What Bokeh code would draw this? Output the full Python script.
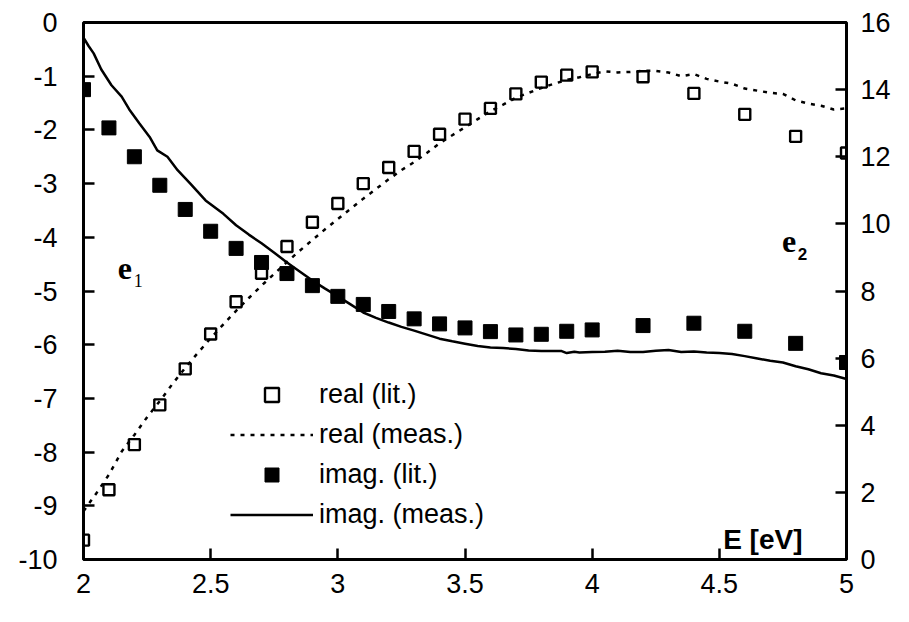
from bokeh.plotting import figure
from bokeh.models import (Range1d, LinearAxis, FixedTicker, Legend, LegendItem, Label)
from bokeh.embed import file_html
from bokeh.resources import INLINE

# ---- data ----
lit_x = [2.0, 2.1, 2.2, 2.3, 2.4, 2.5, 2.6, 2.7, 2.8, 2.9, 3.0, 3.1, 3.2, 3.3, 3.4,
         3.5, 3.6, 3.7, 3.8, 3.9, 4.0, 4.2, 4.4, 4.6, 4.8, 5.0]
real_lit = [-9.64, -8.70, -7.86, -7.12, -6.45, -5.80, -5.20, -4.67, -4.17, -3.72, -3.37,
            -3.00, -2.70, -2.40, -2.08, -1.80, -1.60, -1.33, -1.11, -0.98, -0.92,
            -1.01, -1.32, -1.71, -2.12, -2.43]
imag_lit = [14.0, 12.86, 12.0, 11.15, 10.43, 9.78, 9.27, 8.85, 8.52, 8.16, 7.84, 7.60,
            7.39, 7.17, 7.02, 6.90, 6.79, 6.69, 6.71, 6.80, 6.84, 6.97, 7.04, 6.80,
            6.44, 5.87]

real_meas_x = [2.00, 2.05, 2.10, 2.15, 2.20, 2.25, 2.30, 2.35, 2.40, 2.45, 2.50, 2.55,
               2.60, 2.65, 2.70, 2.75, 2.80, 2.85, 2.90, 2.95, 3.00, 3.05, 3.10, 3.15,
               3.20, 3.25, 3.30, 3.35, 3.40, 3.45, 3.50, 3.55, 3.60, 3.65, 3.70, 3.75,
               3.80, 3.85, 3.90, 3.95, 4.00, 4.05, 4.10, 4.15, 4.20, 4.25, 4.30, 4.35,
               4.40, 4.45, 4.50, 4.55, 4.60, 4.65, 4.70, 4.75, 4.80, 4.85, 4.90, 4.95,
               5.00]
real_meas = [-9.10, -8.77, -8.42, -7.99, -7.68, -7.35, -7.05, -6.73, -6.43, -6.15, -5.88,
             -5.62, -5.37, -5.13, -4.90, -4.68, -4.46, -4.25, -4.05, -3.85, -3.66, -3.47,
             -3.28, -3.10, -2.92, -2.75, -2.60, -2.43, -2.25, -2.10, -1.95, -1.80, -1.65,
             -1.53, -1.40, -1.31, -1.22, -1.14, -1.07, -1.02, -0.96, -0.91, -0.93, -0.92,
             -0.90, -0.90, -0.93, -1.00, -0.96, -1.05, -1.10, -1.14, -1.23, -1.27, -1.31,
             -1.33, -1.45, -1.51, -1.55, -1.62, -1.60]

imag_meas_x = [2.00, 2.02, 2.04, 2.07, 2.11, 2.15, 2.18, 2.22, 2.26, 2.29, 2.33, 2.37,
               2.42, 2.48, 2.55, 2.60, 2.65, 2.70, 2.75, 2.80, 2.85, 2.90, 2.95, 3.00,
               3.05, 3.10, 3.15, 3.20, 3.25, 3.30, 3.35, 3.40, 3.45, 3.50, 3.55, 3.60,
               3.65, 3.70, 3.75, 3.80, 3.85, 3.88, 3.90, 3.93, 3.95, 4.00, 4.05, 4.10,
               4.15, 4.20, 4.25, 4.30, 4.35, 4.40, 4.45, 4.50, 4.55, 4.60, 4.65, 4.70,
               4.75, 4.80, 4.85, 4.90, 4.95, 5.00]
imag_meas = [15.55, 15.30, 15.08, 14.60, 14.13, 13.79, 13.41, 12.99, 12.59, 12.19, 12.00,
             11.60, 11.20, 10.70, 10.30, 9.96, 9.68, 9.42, 9.14, 8.85, 8.58, 8.31, 8.07,
             7.84, 7.60, 7.36, 7.20, 7.06, 6.93, 6.82, 6.70, 6.58, 6.50, 6.43, 6.36, 6.32,
             6.30, 6.27, 6.23, 6.21, 6.21, 6.21, 6.15, 6.19, 6.17, 6.18, 6.19, 6.22, 6.18,
             6.18, 6.22, 6.24, 6.18, 6.20, 6.17, 6.15, 6.12, 6.06, 5.99, 5.92, 5.87, 5.76,
             5.67, 5.55, 5.48, 5.38]

x_ticks = [2, 2.5, 3, 3.5, 4, 4.5, 5]
x_tick_labels = ["2", "2.5", "3", "3.5", "4", "4.5", "5"]
left_ticks = [-10, -9, -8, -7, -6, -5, -4, -3, -2, -1, 0]
left_tick_labels = ["-10", "-9", "-8", "-7", "-6", "-5", "-4", "-3", "-2", "-1", "0"]
right_ticks = [0, 2, 4, 6, 8, 10, 12, 14, 16]
right_tick_labels = ["0", "2", "4", "6", "8", "10", "12", "14", "16"]

legend_labels = ["real (lit.)", "real (meas.)", "imag. (lit.)", "imag. (meas.)"]
x_label = "E [eV]"

# ---- figure ----
p = figure(width=893, height=606, output_backend="svg", toolbar_location=None,
           x_range=Range1d(2, 5), y_range=Range1d(-10, 0),
           min_border_left=83, min_border_right=47, min_border_top=22, min_border_bottom=47,
           x_axis_location=None, y_axis_location=None)
p.extra_y_ranges = {"right": Range1d(0, 16)}
p.background_fill_color = "white"
p.border_fill_color = "white"
p.outline_line_color = "black"
p.outline_line_width = 3
p.xgrid.visible = False
p.ygrid.visible = False

TICK_FONT = "Liberation Sans"
TICK_SIZE = "27px"

def style_axis(ax, ticks, labels, standoff):
    ax.ticker = FixedTicker(ticks=ticks)
    ax.major_label_overrides = {t: l for t, l in zip(ticks, labels)}
    ax.major_tick_in = 11
    ax.major_tick_out = 0
    ax.major_tick_line_width = 2.5
    ax.major_tick_line_color = "black"
    ax.minor_tick_line_color = None
    ax.axis_line_color = None
    ax.major_label_text_font = TICK_FONT
    ax.major_label_text_font_size = TICK_SIZE
    ax.major_label_text_color = "black"
    ax.major_label_standoff = standoff

xax = LinearAxis()
style_axis(xax, x_ticks, x_tick_labels, 14)
p.add_layout(xax, "below")

lax = LinearAxis()
style_axis(lax, left_ticks, left_tick_labels, 26)
p.add_layout(lax, "left")

rax = LinearAxis(y_range_name="right")
style_axis(rax, right_ticks, right_tick_labels, 14)
p.add_layout(rax, "right")

r_real_lit = p.scatter(lit_x, real_lit, marker="square", size=11, fill_alpha=0,
                       line_color="black", line_width=2.4)
r_real_meas = p.line(real_meas_x, real_meas, line_color="black", line_width=2.5,
                     line_dash="4 6")
r_imag_lit = p.scatter(lit_x, imag_lit, marker="square", size=14, fill_color="black",
                       line_color="black", line_width=1, y_range_name="right")
r_imag_meas = p.line(imag_meas_x, imag_meas, line_color="black", line_width=2.5,
                     y_range_name="right")

legend = Legend(items=[
    LegendItem(label=legend_labels[0], renderers=[r_real_lit]),
    LegendItem(label=legend_labels[1], renderers=[r_real_meas]),
    LegendItem(label=legend_labels[2], renderers=[r_imag_lit]),
    LegendItem(label=legend_labels[3], renderers=[r_imag_meas]),
], location=(147, 27), orientation="vertical")
legend.glyph_width = 83
legend.glyph_height = 35
legend.spacing = 5
legend.padding = 0
legend.margin = 0
legend.label_standoff = 6
legend.label_text_font = TICK_FONT
legend.label_text_font_size = "27px"
legend.label_text_color = "black"
legend.border_line_color = None
legend.background_fill_alpha = 0
p.add_layout(legend, "center")

SERIF = "Liberation Serif"
p.add_layout(Label(x=2.135, y=-4.77, text="e", text_font=SERIF, text_font_style="bold",
                   text_font_size="32px", text_color="black"))
p.add_layout(Label(x=2.198, y=-4.93, text="1", text_font=SERIF,
                   text_font_size="18px", text_color="black"))
p.add_layout(Label(x=4.746, y=-4.28, text="e", text_font=SERIF, text_font_style="bold",
                   text_font_size="32px", text_color="black"))
p.add_layout(Label(x=4.808, y=-4.43, text="2", text_font="Liberation Sans",
                   text_font_style="bold", text_font_size="17px", text_color="black"))
p.add_layout(Label(x=4.827, y=-9.62, text=x_label, text_font=TICK_FONT,
                   text_font_style="bold", text_font_size="28px", text_align="right",
                   text_baseline="middle", text_color="black"))

open("out.html", "w").write(file_html(p, INLINE))
